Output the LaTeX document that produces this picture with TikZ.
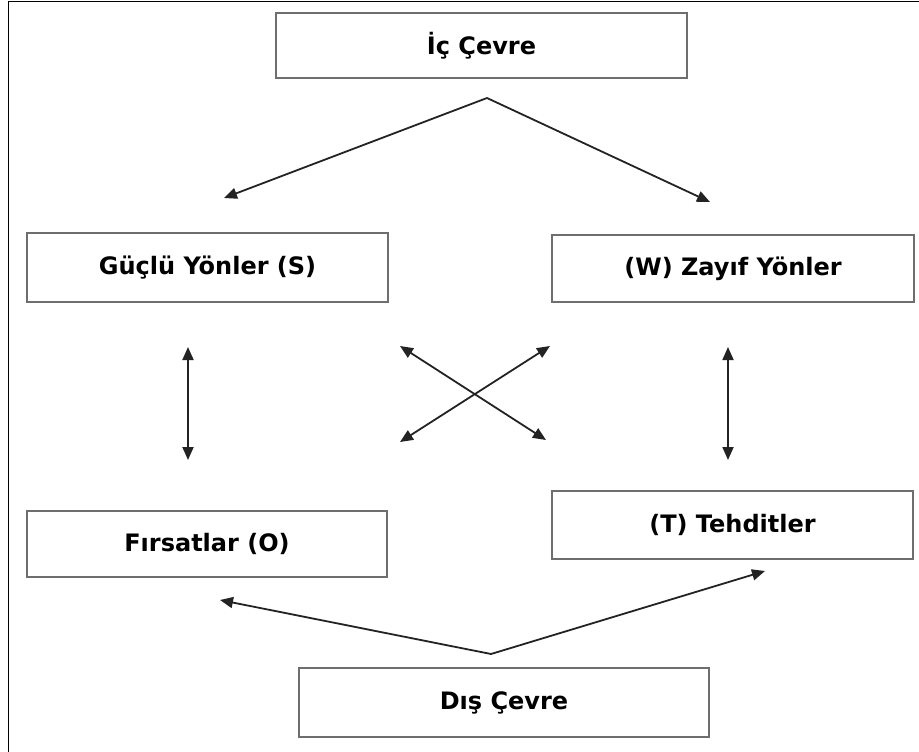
\documentclass[tikz,border=0pt]{standalone}
\usepackage{fontspec}
\setmainfont{DejaVu Sans}
\usetikzlibrary{arrows.meta}
\definecolor{boxgray}{RGB}{110,110,110}
\definecolor{arrgray}{RGB}{35,35,35}
\tikzset{
  kutu/.style={draw=boxgray, line width=1.6pt, fill=white, inner sep=0pt,
    font=\fontsize{24}{26}\selectfont\bfseries},
  ok/.style={draw=arrgray, line width=1.8pt, -{Triangle[length=13pt,width=11pt]}},
  ciftok/.style={draw=arrgray, line width=1.8pt, {Triangle[length=13pt,width=11pt]}-{Triangle[length=13pt,width=11pt]}}
}
\begin{document}
\begin{tikzpicture}[x=1pt,y=-1pt]
      \useasboundingbox (0,0) rectangle (919,752);
      \draw [black, line width=1pt] (8,752) -- (8,2) -- (919,2);
      % kutular
      \node [kutu, minimum width=411pt, minimum height=65pt] (ic) at (481.5,45.5) {İç Çevre};
      \node [kutu, minimum width=361pt, minimum height=69pt] (guclu) at (207.5,267.5) {Güçlü Yönler (S)};
      \node [kutu, minimum width=362pt, minimum height=67pt] (zayif) at (733,268.5) {(W) Zayıf Yönler};
      \node [kutu, minimum width=360pt, minimum height=66pt] (firsat) at (207,544) {Fırsatlar (O)};
      \node [kutu, minimum width=361pt, minimum height=68pt] (tehdit) at (732.5,525) {(T) Tehditler};
      \node [kutu, minimum width=410pt, minimum height=69pt] (dis) at (504,702.5) {Dış Çevre};
      % ok uclari
      \coordinate (icTepe) at (487,98);
      \coordinate (gucluUst) at (224,198);
      \coordinate (zayifUst) at (710,202);
      \coordinate (solUst) at (188,347);
      \coordinate (solAlt) at (188,460);
      \coordinate (sagUst) at (728,347);
      \coordinate (sagAlt) at (728,460);
      \coordinate (caprazSU) at (400,346);
      \coordinate (caprazSA) at (400,442);
      \coordinate (caprazRU) at (550,346);
      \coordinate (caprazRA) at (546,440);
      \coordinate (disTepe) at (491,654);
      \coordinate (firsatAlt) at (220,600);
      \coordinate (tehditAlt) at (765,571);
      \draw [ok] (icTepe) -- (gucluUst);
      \draw [ok] (icTepe) -- (zayifUst);
      \draw [ciftok] (solUst) -- (solAlt);
      \draw [ciftok] (sagUst) -- (sagAlt);
      \draw [ciftok] (caprazSU) -- (caprazRA);
      \draw [ciftok] (caprazRU) -- (caprazSA);
      \draw [ok] (disTepe) -- (firsatAlt);
      \draw [ok] (disTepe) -- (tehditAlt);
\end{tikzpicture}
\end{document}
